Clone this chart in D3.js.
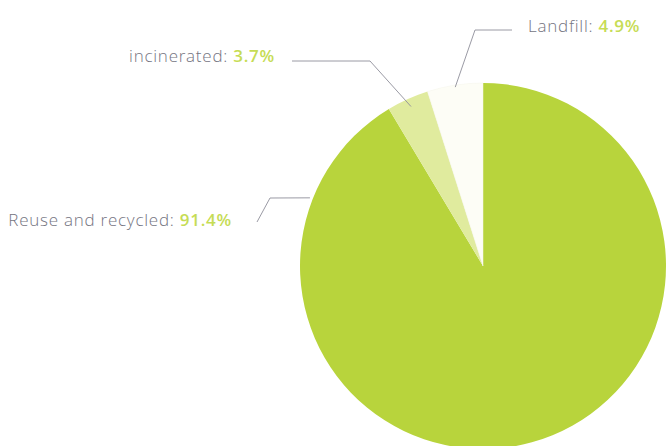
<!DOCTYPE html>
<html><head><meta charset="utf-8">
<script src="https://cdn.jsdelivr.net/npm/d3@7"></script>
<style>html,body{margin:0;padding:0;background:#fff}svg{display:block}</style>
</head><body>
<svg id="c" width="667" height="446"></svg>
<script>
const categories = ["Reuse and recycled", "incinerated", "Landfill"];
const values = [91.4, 3.7, 4.9];
const valueLabels = ["91.4%", "3.7%", "4.9%"];

const colors = ["#b8d43c", "#e0eb9e", "#fdfdf6"];
const W = 667, H = 446, cx = 483, cy = 266, R = 183;
const svg = d3.select("#c");
const g = svg.append("g").attr("transform", `translate(${cx},${cy})`);
const pie = d3.pie().sort(null).value(d => d)(values);
const arc = d3.arc().innerRadius(0).outerRadius(R);
g.selectAll("path").data(pie).join("path")
  .attr("d", arc).attr("fill", (d, i) => colors[i])
  .attr("stroke", (d, i) => i === 2 ? "#f5f5ea" : "none").attr("stroke-width", 0.5);

// leader layouts (angle in degrees clockwise from top; elbow/end relative to center)
const leaders = [
  {ang: 291.5, r: R + 3, pts: [[-213, -68], [-226, -44]], tx: -251, ty: -45, anchor: "end"},
  {ang: null, r: R - 8, pts: [[-113, -205], [-191, -205]], tx: -208, ty: -209, anchor: "end"},
  {ang: null, r: R - 2, pts: [[-8, -236], [29, -236]], tx: 45, ty: -239, anchor: "start"}
];
pie.forEach((d, i) => {
  const L = leaders[i];
  const a = L.ang !== null ? L.ang * Math.PI / 180 : (d.startAngle + d.endAngle) / 2;
  const p0 = [Math.sin(a) * L.r, -Math.cos(a) * L.r];
  const line = d3.line();
  g.append("path").attr("d", line([p0, ...L.pts])).attr("fill", "none")
    .attr("stroke", "#8e8e9a").attr("stroke-width", 0.9);
  const t = g.append("text").attr("x", L.tx).attr("y", L.ty + 5)
    .attr("text-anchor", L.anchor).attr("font-family", "'Open Sans', sans-serif")
    .attr("font-size", 17).attr("letter-spacing", 0.75);
  t.append("tspan").attr("fill", "#74747f").attr("font-weight", 300).text(categories[i] + ": ");
  t.append("tspan").attr("fill", "#c6dc55").attr("font-weight", 600).text(valueLabels[i]);
});
</script>
</body></html>
